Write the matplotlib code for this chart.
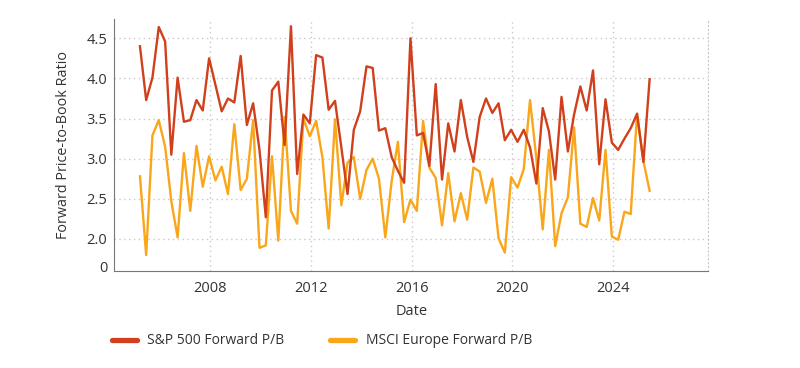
import numpy as np
import pandas as pd
import matplotlib
matplotlib.use("Agg")
import matplotlib.pyplot as plt

plt.rcParams['font.family'] = ['Open Sans', 'DejaVu Sans']

dates = pd.period_range('2005Q1', periods=82, freq='Q').to_timestamp(how='start') + pd.Timedelta(days=75)

sp500 = [4.40, 3.73, 4.01, 4.64, 4.46, 3.05, 4.01, 3.46, 3.48, 3.73,
         3.60, 4.25, 3.92, 3.59, 3.75, 3.70, 4.28, 3.42, 3.69, 3.11,
         2.27, 3.85, 3.96, 3.17, 4.65, 2.81, 3.55, 3.44, 4.29, 4.26,
         3.61, 3.72, 3.14, 2.56, 3.36, 3.59, 4.15, 4.13, 3.35, 3.38,
         3.02, 2.85, 2.70, 4.50, 3.29, 3.32, 2.91, 3.93, 2.74, 3.44,
         3.09, 3.73, 3.27, 2.96, 3.52, 3.75, 3.57, 3.69, 3.23, 3.36,
         3.21, 3.36, 3.14, 2.69, 3.63, 3.34, 2.74, 3.77, 3.09, 3.55,
         3.90, 3.60, 4.10, 2.93, 3.74, 3.20, 3.11, 3.25, 3.38, 3.56,
         2.96, 3.99]

europe = [2.78, 1.80, 3.29, 3.48, 3.15, 2.47, 2.02, 3.07, 2.35, 3.16,
          2.65, 3.03, 2.73, 2.90, 2.56, 3.43, 2.61, 2.75, 3.48, 1.89,
          1.92, 3.03, 1.98, 3.52, 2.35, 2.19, 3.50, 3.28, 3.47, 3.02,
          2.13, 3.49, 2.42, 2.95, 3.02, 2.50, 2.86, 3.00, 2.75, 2.02,
          2.72, 3.21, 2.21, 2.49, 2.35, 3.47, 2.89, 2.76, 2.17, 2.82,
          2.22, 2.57, 2.24, 2.89, 2.84, 2.45, 2.75, 2.01, 1.83, 2.77,
          2.64, 2.87, 3.73, 3.00, 2.12, 3.11, 1.91, 2.32, 2.52, 3.39,
          2.19, 2.15, 2.51, 2.23, 3.11, 2.03, 1.99, 2.34, 2.31, 3.56,
          2.97, 2.60]

ytick_vals = [1.655, 2.0, 2.5, 3.0, 3.5, 4.0, 4.5]
ytick_labels = ['0', '2.0', '2.5', '3.0', '3.5', '4.0', '4.5']
xtick_years = [2008, 2012, 2016, 2020, 2024]

series_names = ['S&P 500 Forward P/B', 'MSCI Europe Forward P/B']
colors = ['#D0401C', '#F9A61A']

fig = plt.figure(figsize=(8, 3.68), dpi=100)
ax = fig.add_axes([114.33/800, 1-271/368, 594/800, 252/368])

ax.plot(dates, sp500, color=colors[0], lw=1.7, label=series_names[0], zorder=3)
ax.plot(dates, europe, color=colors[1], lw=1.7, label=series_names[1], zorder=2)

ax.set_xlim(pd.Timestamp('2004-03-10'), pd.Timestamp('2027-10-15'))
ax.set_ylim(1.601, 4.740)
ax.set_xticks([pd.Timestamp(f'{y}-01-01') for y in xtick_years])
ax.set_xticklabels([str(y) for y in xtick_years])
ax.set_yticks(ytick_vals)
ax.set_yticklabels(ytick_labels)

ax.grid(True, linestyle=(0, (1, 2.5)), color='#c8c8c8', lw=1.0)
ax.yaxis.get_gridlines()[0].set_visible(False)
ax.set_axisbelow(True)

ax.tick_params(length=0, labelsize=10.5, colors='#333333')
ax.tick_params(axis='y', pad=5)
ax.tick_params(axis='x', pad=7)

ax.spines['top'].set_visible(False)
ax.spines['right'].set_linestyle((0, (1, 2.5)))
ax.spines['right'].set_color('#c8c8c8')
ax.spines['left'].set_color('#777777')
ax.spines['bottom'].set_color('#777777')

ax.set_xlabel('Date', fontsize=10.5, color='#333333', labelpad=6)
ax.set_ylabel('Forward Price-to-Book Ratio', fontsize=10.4, color='#333333', labelpad=11)

leg = fig.legend(loc='center left', bbox_to_anchor=(112/800, 1-341/368), ncol=2,
                 frameon=False, fontsize=10, handlelength=1.8, handletextpad=0.75,
                 columnspacing=3.3, borderpad=0, borderaxespad=0)
for h in leg.get_lines():
    h.set_linewidth(3.8)
    h.set_solid_capstyle('round')
for t in leg.get_texts():
    t.set_color('#333333')

fig.savefig('out.png', dpi=100)
